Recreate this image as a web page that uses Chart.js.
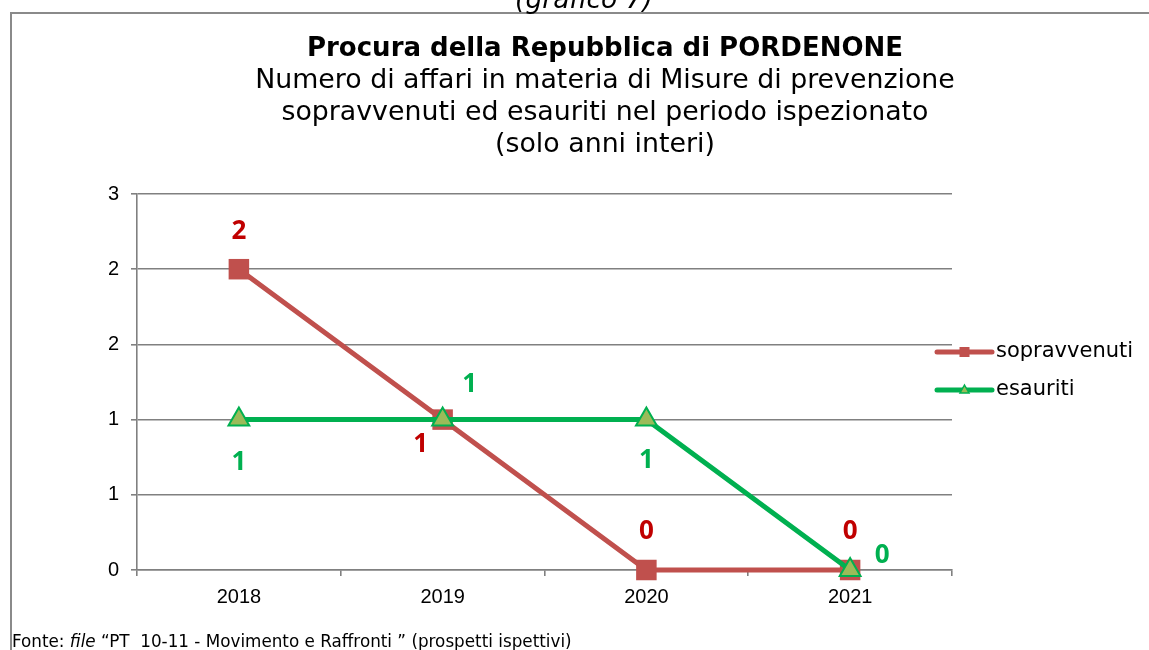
<!DOCTYPE html>
<html>
<head>
<meta charset="utf-8">
<script src="https://cdn.jsdelivr.net/npm/chart.js@4"></script>
<style>
  html, body { margin: 0; padding: 0; background: #fff; }
  body { width: 1149px; height: 650px; position: relative; overflow: hidden; font-family: "DejaVu Sans", Verdana, sans-serif; }
  #wrap { position: absolute; left: 0; top: 0; width: 1149px; height: 650px; }
  .frame { position: absolute; left: 10px; top: 12px; width: 1200px; height: 700px; border-left: 2px solid #8a8a8a; border-top: 2px solid #8a8a8a; }
  .caption { position: absolute; left: 0; width: 1168px; top: -17px; text-align: center; font-style: italic; font-size: 26.5px; color: #000; }
  .titles { position: absolute; left: 205px; width: 800px; top: 31px; text-align: center; color: #000; font-size: 26.8px; line-height: 32px; }
  .titles b { font-size: 26px; }
  .source { position: absolute; left: 12px; top: 631px; font-size: 16.8px; color: #000; white-space: pre; }
</style>
</head>
<body>
<div id="wrap"><canvas id="chart" width="1149" height="650"></canvas></div>
<div class="frame"></div>
<div class="caption">(grafico 7)</div>
<div class="titles">
  <b>Procura della Repubblica di PORDENONE</b><br>
  Numero di affari in materia di Misure di prevenzione<br>
  sopravvenuti ed esauriti nel periodo ispezionato<br>
  (solo anni interi)
</div>
<div class="source">Fonte: <i>file</i> “PT  10-11 - Movimento e Raffronti ” (prospetti ispettivi)</div>
<script>
const years = ['2018', '2019', '2020', '2021'];
const sopravvenuti = [2, 1, 0, 0];
const esauriti = [1, 1, 1, 0];
// y axis goes in half steps but Excel shows them with no decimals
const yTickLabels = ['0', '1', '1', '2', '2', '3'];

// where each value label sits relative to its point
const labelOffsets = [
  [[0, -38], [-22, 25], [0, -38], [0, -38]],
  [[0, 43], [27, -35], [0, 41], [32, -14]],
];
const labelColors = ['#C00000', '#00B050'];

const valueLabels = {
  id: 'valueLabels',
  afterDatasetsDraw(chart) {
    const { ctx } = chart;
    ctx.save();
    ctx.font = 'bold 26px "Open Sans", "Liberation Sans", sans-serif';
    ctx.textAlign = 'center';
    ctx.textBaseline = 'middle';
    chart.data.datasets.forEach((ds, di) => {
      const meta = chart.getDatasetMeta(di);
      ctx.fillStyle = labelColors[di];
      meta.data.forEach((pt, i) => {
        const [dx, dy] = labelOffsets[di][i];
        ctx.fillText(String(ds.data[i]), pt.x + dx, pt.y + dy);
      });
    });
    ctx.restore();
  },
};

// Excel style legend: short line with the marker in the middle
const lineLegend = {
  id: 'lineLegend',
  afterDraw(chart) {
    const { ctx } = chart;
    const x0 = 937;
    const x1 = 992;
    const rows = [352, 390];
    ctx.save();
    chart.data.datasets.forEach((ds, di) => {
      const y = rows[di];
      ctx.strokeStyle = ds.borderColor;
      ctx.lineWidth = 5;
      ctx.lineCap = 'round';
      ctx.beginPath();
      ctx.moveTo(x0, y);
      ctx.lineTo(x1, y);
      ctx.stroke();
      const cx = (x0 + x1) / 2;
      if (di === 0) {
        ctx.fillStyle = ds.pointBackgroundColor;
        ctx.fillRect(cx - 5, y - 5, 10, 10);
      } else {
        ctx.fillStyle = ds.pointBackgroundColor;
        ctx.strokeStyle = ds.pointBorderColor;
        ctx.lineWidth = 1.5;
        ctx.beginPath();
        ctx.moveTo(cx, y - 5);
        ctx.lineTo(cx + 4.5, y + 3);
        ctx.lineTo(cx - 4.5, y + 3);
        ctx.closePath();
        ctx.fill();
        ctx.stroke();
      }
      ctx.fillStyle = '#000';
      ctx.font = '21px "DejaVu Sans", sans-serif';
      ctx.textAlign = 'left';
      ctx.textBaseline = 'middle';
      ctx.fillText(ds.label, x1 + 4, y);
    });
    ctx.restore();
  },
};

new Chart(document.getElementById('chart'), {
  type: 'line',
  data: {
    labels: years,
    datasets: [{
      label: 'sopravvenuti',
      data: sopravvenuti,
      borderColor: '#C0504D',
      backgroundColor: '#C0504D',
      borderWidth: 5,
      pointStyle: 'rect',
      pointRadius: 14.5,
      pointBackgroundColor: '#C0504D',
      pointBorderColor: '#C0504D',
      pointBorderWidth: 0,
      clip: false,
      order: 1,
    }, {
      label: 'esauriti',
      data: esauriti,
      borderColor: '#00B050',
      backgroundColor: '#9BBB59',
      borderWidth: 5,
      pointStyle: 'triangle',
      pointRadius: 12,
      pointBackgroundColor: '#9BBB59',
      pointBorderColor: '#00B050',
      pointBorderWidth: 2,
      clip: false,
      order: 0,
    }],
  },
  options: {
    responsive: false,
    animation: false,
    events: [],
    layout: { padding: { left: 0, top: 194, right: 197, bottom: 36 } },
    plugins: {
      legend: { display: false },
      tooltip: { enabled: false },
      title: { display: false },
    },
    scales: {
      x: {
        offset: true,
        afterFit(scale) { scale.height = 44; },
        grid: {
          offset: true,
          drawOnChartArea: false,
          color: '#808080',
          lineWidth: 1.6,
          tickLength: 6,
        },
        border: { color: '#808080', width: 1.6 },
        ticks: { color: '#000', padding: 9, font: { family: '"Liberation Sans", Arial', size: 20 } },
      },
      y: {
        min: 0,
        max: 2.5,
        afterFit(scale) { scale.width = 137; },
        grid: { color: '#808080', lineWidth: 1.6, tickLength: 6 },
        border: { color: '#808080', width: 1.6 },
        ticks: {
          stepSize: 0.5,
          color: '#000',
          padding: 12,
          font: { family: '"Liberation Sans", Arial', size: 20 },
          callback: (v, i) => yTickLabels[i],
        },
      },
    },
  },
  plugins: [valueLabels, lineLegend],
});
</script>
</body>
</html>
